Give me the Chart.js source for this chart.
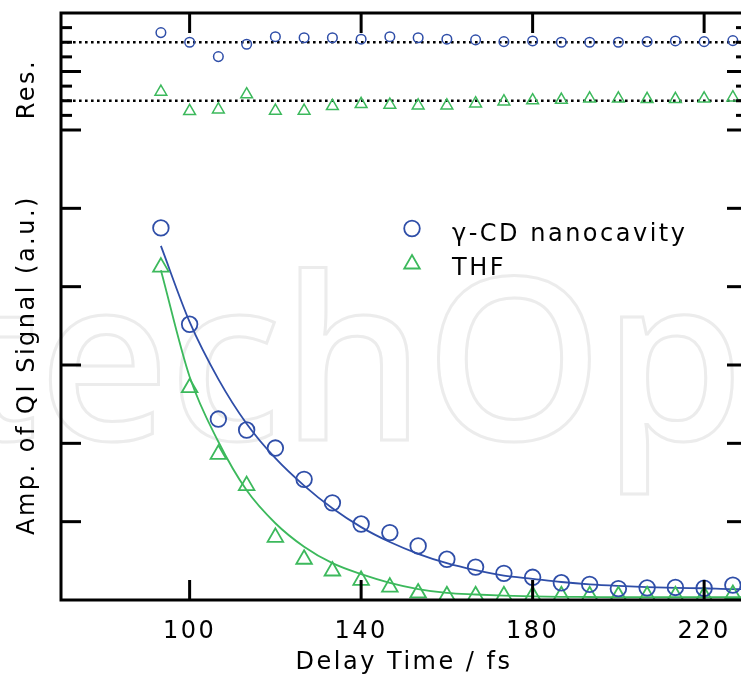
<!DOCTYPE html>
<html><head><meta charset="utf-8">
<script src="https://cdn.jsdelivr.net/npm/chart.js@4"></script>
<style>html,body{margin:0;padding:0;overflow:hidden;background:#fff}canvas{display:block}</style>
</head><body>
<canvas id="c" width="760" height="680"></canvas>
<script>
// ---- data ----
const delayTimes = [93.3,100,106.7,113.3,120,126.7,133.3,140,146.7,153.3,160,166.7,173.3,180,186.7,193.3,200,206.7,213.3,220,226.7];
const cdAmp  = [4.75,3.52,2.31,2.17,1.94,1.54,1.24,0.97,0.86,0.69,0.52,0.42,0.34,0.29,0.22,0.20,0.145,0.155,0.16,0.15,0.19];
const thfAmp = [4.25,2.71,1.86,1.46,0.80,0.52,0.37,0.25,0.165,0.09,0.055,0.055,0.055,0.055,0.055,0.055,0.055,0.055,0.055,0.055,0.07];
const fitTimes = [93.3,100,106.7,113.3,120,126.7,133.3,140,146.7,153.3,160,166.7,173.3,180,186.7,193.3,200,206.7,213.3,220,226.7,230];
const cdFit  = [4.52,3.55,2.82,2.25,1.81,1.46,1.17,0.93,0.74,0.59,0.47,0.38,0.31,0.27,0.23,0.20,0.18,0.165,0.155,0.15,0.14,0.14];
const thfFit = [4.21,2.85,2.02,1.40,0.98,0.68,0.47,0.33,0.22,0.14,0.09,0.07,0.055,0.045,0.04,0.038,0.035,0.035,0.035,0.035,0.035,0.035];
const cdRes  = [0.66,0,-0.98,-0.14,0.38,0.31,0.31,0.21,0.38,0.31,0.21,0.16,0.04,0.09,0,0,0,0.04,0.09,0.04,0.11];
const thfRes = [0.61,-0.71,-0.60,0.43,-0.69,-0.69,-0.37,-0.23,-0.28,-0.33,-0.33,-0.19,-0.05,0.02,0.06,0.15,0.15,0.11,0.11,0.15,0.22];
const resZero = 0;
const xTickValues = [100,140,180,220];
const seriesNames = ['\u03b3-CD nanocavity','THF'];
const xTitle = 'Delay Time / fs';
const yTitle = 'Amp. of QI Signal (a.u.)';
const resTitle = 'Res.';

const BLUE = '#2f4ea8', GREEN = '#3cb95c';
const FONT = {family:'"DejaVu Sans", Verdana, sans-serif', size:24};
const X_MIN = 70, X_MAX = 230;

const pts = (xs, ys) => xs.map((x,i)=>({x, y: ys[i]}));

const spacing = {
  id:'spacing',
  beforeLayout(c){ c.ctx.letterSpacing='2.5px'; },
  beforeDraw(c){
    const ctx=c.ctx;
    // faint watermark behind everything
    ctx.save();
    ctx.letterSpacing='0px';
    ctx.font='600 226px "Open Sans"';
    ctx.strokeStyle='#ececec'; ctx.lineWidth=3;
    const pre = ctx.measureText('Intech').width;
    ctx.strokeText('IntechOpen', 425 - pre, 440);
    ctx.restore();
    ctx.letterSpacing='2.5px';
  }
};

const frame = {
  id:'frame',
  afterDatasetsDraw(c){
    const ctx=c.ctx, a=c.chartArea, s=c.scales;
    ctx.save();
    ctx.strokeStyle='#000'; ctx.lineWidth=3; ctx.lineCap='butt';
    const ln=(x1,y1,x2,y2)=>{ctx.beginPath();ctx.moveTo(x1,y1);ctx.lineTo(x2,y2);ctx.stroke();};
    xTickValues.forEach(v=>{const px=s.x.getPixelForValue(v); ln(px,a.bottom,px,a.bottom-20); ln(px,a.top,px,a.top+20);});
    s.y.ticks.forEach(t=>{ if(t.value>s.y.min && t.value<s.y.max){const py=s.y.getPixelForValue(t.value); ln(a.left,py,a.left+20,py); ln(a.right,py,a.right-20,py);} });
    [s.yRB,s.yRG].forEach(sc=>sc.ticks.forEach(t=>{
      const py=sc.getPixelForValue(t.value);
      if (py < a.top+2) return;
      const len = Math.abs(t.value)===2 ? 20 : 11;
      ln(a.left,py,a.left+len,py); ln(a.right,py,a.right-len,py);
    }));
    ctx.strokeRect(a.left,a.top,a.right-a.left,a.bottom-a.top);
    ctx.restore();
  },
  afterDraw(c){
    const ctx=c.ctx; ctx.save();
    ctx.letterSpacing='2.5px';
    ctx.font='24px "DejaVu Sans", Verdana, sans-serif';
    // Res. title
    ctx.fillStyle='#000'; ctx.textAlign='center'; ctx.textBaseline='alphabetic';
    ctx.save(); ctx.translate(33.5,89); ctx.rotate(-Math.PI/2); ctx.fillText(resTitle,0,0); ctx.restore();
    // legend
    ctx.lineWidth=1.8;
    ctx.strokeStyle=BLUE; ctx.beginPath(); ctx.arc(412,228.5,7.8,0,Math.PI*2); ctx.stroke();
    ctx.strokeStyle=GREEN; ctx.beginPath();
    const r=9, cx=412, cy=264;
    ctx.moveTo(cx, cy-r); ctx.lineTo(cx+r*Math.sin(2*Math.PI/3), cy-r*Math.cos(2*Math.PI/3)); ctx.lineTo(cx+r*Math.sin(4*Math.PI/3), cy-r*Math.cos(4*Math.PI/3)); ctx.closePath(); ctx.stroke();
    ctx.textAlign='left'; ctx.fillStyle='#000';
    ctx.fillText(seriesNames[0], 452, 241);
    ctx.fillText(seriesNames[1], 452, 275);
    ctx.restore();
  }
};

new Chart(document.getElementById('c'), {
  type:'scatter',
  data:{datasets:[
    {label:seriesNames[0], data:pts(delayTimes,cdAmp), yAxisID:'y', pointStyle:'circle', pointRadius:7.8, borderColor:BLUE, backgroundColor:'rgba(0,0,0,0)', borderWidth:1.8, showLine:false},
    {label:seriesNames[1], data:pts(delayTimes,thfAmp), yAxisID:'y', pointStyle:'triangle', pointRadius:9, borderColor:GREEN, backgroundColor:'rgba(0,0,0,0)', borderWidth:1.8, showLine:false},
    {label:'cd fit', data:pts(fitTimes,cdFit), yAxisID:'y', showLine:true, pointRadius:0, borderColor:BLUE, borderWidth:1.8, cubicInterpolationMode:'monotone', fill:false},
    {label:'thf fit', data:pts(fitTimes,thfFit), yAxisID:'y', showLine:true, pointRadius:0, borderColor:GREEN, borderWidth:1.8, cubicInterpolationMode:'monotone', fill:false},
    {label:'cd res', data:pts(delayTimes,cdRes), yAxisID:'yRB', pointStyle:'circle', pointRadius:4.8, borderColor:BLUE, backgroundColor:'rgba(0,0,0,0)', borderWidth:1.5, showLine:false},
    {label:'thf res', data:pts(delayTimes,thfRes), yAxisID:'yRG', pointStyle:'triangle', pointRadius:6.8, borderColor:GREEN, backgroundColor:'rgba(0,0,0,0)', borderWidth:1.5, showLine:false},
    {label:'cd zero', data:[{x:X_MIN,y:resZero},{x:X_MAX,y:resZero}], yAxisID:'yRB', showLine:true, pointRadius:0, borderColor:'#000', borderWidth:2.6, borderDash:[2.6,3.4]},
    {label:'thf zero', data:[{x:X_MIN,y:resZero},{x:X_MAX,y:resZero}], yAxisID:'yRG', showLine:true, pointRadius:0, borderColor:'#000', borderWidth:2.6, borderDash:[2.6,3.4]}
  ]},
  options:{
    responsive:false, animation:false, devicePixelRatio:1,
    layout:{padding:{left:0,right:13,top:13,bottom:0}},
    plugins:{legend:{display:false}, tooltip:{enabled:false}},
    scales:{
      x:{type:'linear', min:X_MIN, max:X_MAX, position:'bottom',
        grid:{display:false, drawTicks:false}, border:{display:false},
        afterBuildTicks:s=>{ s.ticks = xTickValues.map(v=>({value:v})); },
        ticks:{font:FONT, color:'#000', padding:17, maxRotation:0, autoSkip:false},
        title:{display:true, text:xTitle, font:FONT, color:'#000', padding:{top:0,bottom:3}},
        afterFit:s=>{ s.height = 80; }
      },
      y:{type:'linear', min:0, max:6, position:'left', stack:'v', stackWeight:470,
        grid:{display:false, drawTicks:false}, border:{display:false}, ticks:{display:false, stepSize:1},
        title:{display:true, text:yTitle, font:FONT, color:'#000', padding:{top:13,bottom:0}},
        afterFit:s=>{ s.width = 61; }},
      yRG:{type:'linear', axis:'y', min:-2, max:2, position:'left', stack:'v', stackWeight:58.5,
        grid:{display:false, drawTicks:false}, border:{display:false}, ticks:{display:false, stepSize:1},
        afterFit:s=>{ s.width = 61; }},
      yRB:{type:'linear', axis:'y', min:-2, max:2, position:'left', stack:'v', stackWeight:58.5,
        grid:{display:false, drawTicks:false}, border:{display:false}, ticks:{display:false, stepSize:1},
        afterFit:s=>{ s.width = 61; }}
    }
  },
  plugins:[spacing, frame]
});
</script>
</body></html>
